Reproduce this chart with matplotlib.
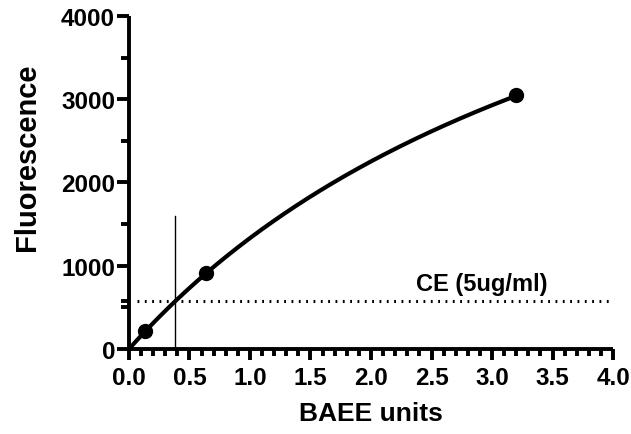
import numpy as np
import matplotlib.pyplot as plt
from matplotlib.ticker import MultipleLocator

plt.rcParams['font.family'] = ['Liberation Sans', 'DejaVu Sans']
plt.rcParams['font.weight'] = 'bold'

# standard points
baee = [0.13, 0.64, 3.2]
fluor = [220, 913, 3045]

# hyperbolic fit Y = vmax*X/(km+X)
vmax = 7300.0
km = 4.48

# CE (5ug/ml) reading
ce_level = 580
ce_units = 0.38
ce_marker_top = 1600

fig = plt.figure(figsize=(6.31, 4.35), dpi=100)
ax = fig.add_axes([0.2044, 0.1954, 0.7671, 0.7656])

xfit = np.linspace(0, baee[-1], 200)
ax.plot(xfit, vmax * xfit / (km + xfit), color='black', lw=3, solid_capstyle='round')
ax.plot(baee, fluor, 'o', color='black', ms=10, clip_on=False, zorder=5)

ax.plot([0.07, 3.97], [ce_level, ce_level], color='black', lw=2.2, linestyle=(0, (0.6, 1.8)))
ax.plot([ce_units, ce_units], [0, ce_marker_top], color='black', lw=1)
ax.text(2.37, 790, 'CE (5ug/ml)', fontsize=17, fontweight='bold', va='center', ha='left')

ax.set_xlim(0, 4)
ax.set_ylim(0, 4000)
ax.xaxis.set_major_locator(MultipleLocator(0.5))
ax.xaxis.set_minor_locator(MultipleLocator(0.1))
ax.set_yticks([0, 1000, 2000, 3000, 4000])
ax.set_yticks([500, 1500, 2500, 3500, ce_level], minor=True)
ax.xaxis.set_major_formatter(lambda v, p: '%.1f' % v)

for s in ['top', 'right']:
    ax.spines[s].set_visible(False)
for s in ['left', 'bottom']:
    ax.spines[s].set_linewidth(2.8)
    ax.spines[s].set_capstyle('butt')

ax.tick_params(axis='y', which='major', length=9, width=2.8, labelsize=17.5, pad=1)
ax.tick_params(axis='y', which='minor', length=6, width=2.8)
ax.tick_params(axis='x', which='major', length=8, width=2.8, labelsize=17.5, pad=4)
ax.tick_params(axis='x', which='minor', length=5, width=2.8)
for lab in ax.get_xticklabels() + ax.get_yticklabels():
    lab.set_fontweight('bold')

ax.set_xlabel('BAEE units', fontsize=19, fontweight='bold', labelpad=9)
ax.set_ylabel('Fluorescence', fontsize=21, fontweight='bold')
ax.yaxis.set_label_coords(-0.182, 0.58)

fig.savefig('out.png', dpi=100)
